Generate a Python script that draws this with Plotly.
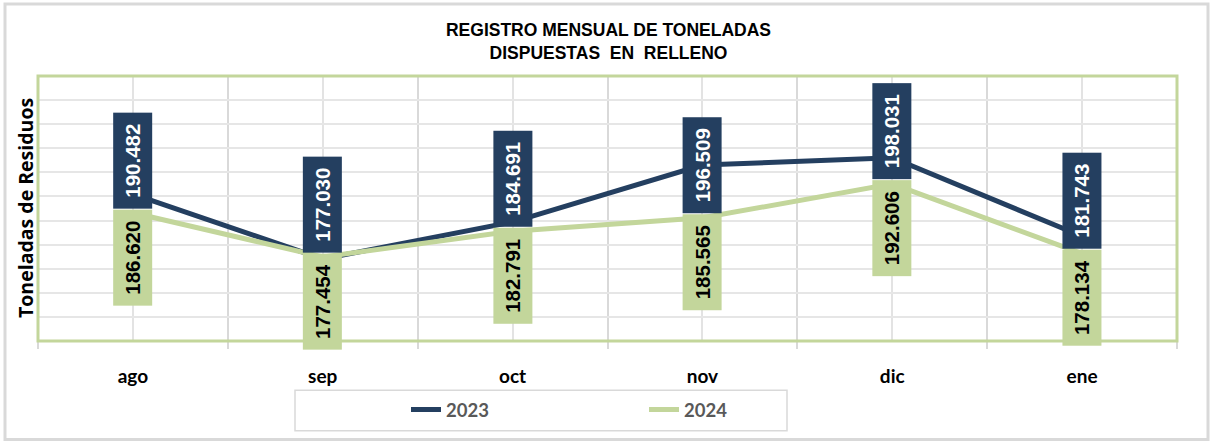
import plotly.graph_objects as go

months = ["ago", "sep", "oct", "nov", "dic", "ene"]
series_names = ["2023", "2024"]
values_2023 = [190.482, 177.030, 184.691, 196.509, 198.031, 181.743]
values_2024 = [186.620, 177.454, 182.791, 185.565, 192.606, 178.134]

NAVY = "#243F60"
GREEN = "#C3D69B"
GRID = "#D9D9D9"

W, H = 1217, 441
ML, MR, MT, MB = 38, 40, 76, 96
PW, PH = W - ML - MR, H - MT - MB

def px_x(p):
    return (p - ML) / PW

def px_y(p):
    return (H - MB - p) / PH

xs = list(range(len(months)))

fig = go.Figure()
fig.add_trace(go.Scatter(x=xs, y=values_2023, mode="lines", name=series_names[0],
                         line=dict(color=NAVY, width=5)))
fig.add_trace(go.Scatter(x=xs, y=values_2024, mode="lines", name=series_names[1],
                         line=dict(color=GREEN, width=5)))

label_font = dict(family="Liberation Sans, Arial, sans-serif", size=20.5, weight="bold")
for i in xs:
    fig.add_annotation(x=i, y=values_2024[i], xref="x", yref="y",
                       text=f"{values_2023[i]:.3f}", showarrow=False, textangle=-90,
                       yanchor="bottom", xanchor="center", yshift=4,
                       bgcolor=NAVY, font=dict(color="white", **label_font),
                       width=95, height=38, borderpad=0)
    fig.add_annotation(x=i, y=values_2024[i], xref="x", yref="y",
                       text=f"{values_2024[i]:.3f}", showarrow=False, textangle=-90,
                       yanchor="top", xanchor="center", yshift=4,
                       bgcolor=GREEN, font=dict(color="black", **label_font),
                       width=95, height=38, borderpad=0)

# y-axis title
fig.add_annotation(x=px_x(25), y=px_y(210), xref="paper", yref="paper",
                   xanchor="center", yanchor="middle",
                   text="Toneladas de Residuos", showarrow=False, textangle=-90,
                   font=dict(family="Open Sans, sans-serif", size=19.5, weight="bold", color="black"))

# outer chart border
fig.add_shape(type="rect", xref="paper", yref="paper",
              x0=px_x(5), x1=px_x(1208), y0=px_y(445), y1=px_y(3),
              line=dict(color=GRID, width=3), layer="below")
# legend box
fig.add_shape(type="rect", xref="paper", yref="paper",
              x0=px_x(295), x1=px_x(787), y0=px_y(436), y1=px_y(395),
              line=dict(color=GRID, width=1.5), layer="below")
# plot area border
fig.add_shape(type="rect", xref="paper", yref="paper", x0=0, x1=1, y0=0, y1=1,
              line=dict(color=GREEN, width=3), layer="above")

fig.update_layout(
    width=W, height=H,
    margin=dict(l=ML, r=MR, t=MT, b=MB),
    paper_bgcolor="white", plot_bgcolor="white",
    title=dict(text="REGISTRO MENSUAL DE TONELADAS<br>DISPUESTAS\u00a0\u00a0EN\u00a0\u00a0RELLENO",
               x=0.5, xanchor="center", y=1 - 36 / H, yanchor="middle",
               font=dict(family="Liberation Sans, Arial, sans-serif",
                         size=17.5, weight="bold", color="black")),
    showlegend=True,
    legend=dict(orientation="h", x=px_x(406), xanchor="left", y=px_y(415), yanchor="middle",
                entrywidth=193, entrywidthmode="pixels", bgcolor="rgba(0,0,0,0)",
                font=dict(family="Lato, Open Sans, sans-serif", size=18.5, weight="bold", color="#595959")),
    xaxis=dict(range=[-0.5, len(months) - 0.5], tickvals=xs, ticktext=months,
               showgrid=True, gridcolor="#E3E3E3", gridwidth=1.5, ticks="",
               ticklabelstandoff=22, zeroline=False, showline=False,
               tickfont=dict(family="Lato, Open Sans, sans-serif", size=19, weight="bold", color="black"),
               minor=dict(tickvals=[i - 0.5 for i in range(len(months) + 1)], showgrid=True,
                          gridcolor=GRID, gridwidth=1.5, ticks="outside", ticklen=7,
                          tickcolor=GRID, tickwidth=1.5)),
    yaxis=dict(range=[160, 215], dtick=5, showticklabels=False, showgrid=True,
               gridcolor="#E6E6E6", gridwidth=2, zeroline=False, ticks=""),
)

fig.write_html("out.html", config={"displayModeBar": False},
               post_script="document.body.style.margin='0';document.body.style.padding='0';")
